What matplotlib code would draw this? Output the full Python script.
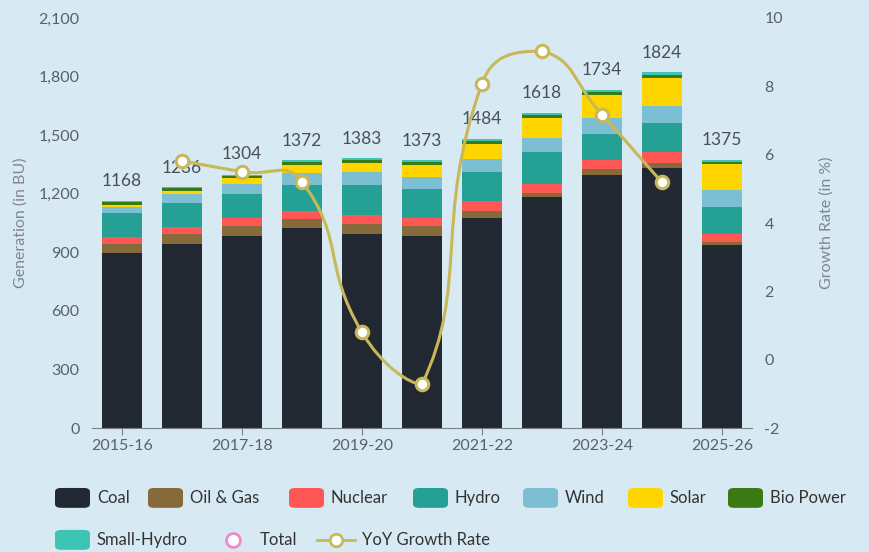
import numpy as np
import matplotlib
matplotlib.use("Agg")
import matplotlib.pyplot as plt
from matplotlib.path import Path
from matplotlib.patches import PathPatch, FancyBboxPatch
from matplotlib.lines import Line2D
from matplotlib.ticker import FuncFormatter

plt.rcParams["font.family"] = ["Lato", "DejaVu Sans"]
plt.rcParams["axes.unicode_minus"] = False

# --- Datos ---
anios = ["2015-16", "2016-17", "2017-18", "2018-19", "2019-20", "2020-21",
         "2021-22", "2022-23", "2023-24", "2024-25", "2025-26"]
coal = [896, 944, 986, 1022, 995, 982, 1078, 1182, 1294, 1330, 935]
oil_gas = [47, 49, 50, 50, 48, 51, 36, 24, 31, 29, 18]
nuclear = [37, 38, 38, 38, 46, 43, 47, 46, 48, 56, 42]
hydro = [121, 122, 126, 135, 156, 150, 151, 162, 134, 149, 138]
wind = [33, 46, 52, 62, 64, 60, 68, 72, 83, 83, 86]
solar = [7, 14, 26, 39, 50, 60, 73, 102, 116, 146, 132]
bio = [16, 14, 15, 16, 14, 16, 16, 16, 16, 16, 10]
small_hydro = [8, 8, 5, 9, 9, 10, 10, 11, 10, 12, 10]
totales = [1168, 1236, 1304, 1372, 1383, 1373, 1484, 1618, 1734, 1824, 1375]
crecimiento = [None, 5.82, 5.50, 5.21, 0.80, -0.72, 8.08, 9.03, 7.17, 5.19, None]

series = [
    ("Coal", coal, "#222831"),
    ("Oil & Gas", oil_gas, "#866a3a"),
    ("Nuclear", nuclear, "#ff5656"),
    ("Hydro", hydro, "#24a095"),
    ("Wind", wind, "#7cbfd3"),
    ("Solar", solar, "#ffd500"),
    ("Bio Power", bio, "#3b7a12"),
    ("Small-Hydro", small_hydro, "#3cc4b4"),
]

fondo = "#d7eaf4"
color_linea = "#c8b858"
gris = "#5a6066"

fig = plt.figure(figsize=(8.7, 5.52), dpi=100, facecolor=fondo)
ax = fig.add_axes([0.1057, 0.2246, 0.7586, 0.7428], facecolor=fondo)

x = np.arange(len(anios))
base = np.zeros(len(anios))
for nombre, vals, col in series:
    ax.bar(x, vals, bottom=base, width=0.67, color=col, edgecolor="none", zorder=2)
    base += np.array(vals)

for xi, t in zip(x, totales):
    ax.annotate(str(t), (xi, t), xytext=(0, 8), textcoords="offset points",
                ha="center", va="bottom", fontsize=12.5, color="#4a4f55")

ax.set_xlim(-0.5, len(anios) - 0.5)
ax.set_ylim(0, 2100)
ax.set_yticks(np.arange(0, 2101, 300))
ax.yaxis.set_major_formatter(FuncFormatter(lambda v, p: f"{int(v):,}"))
ax.set_xticks(x[::2])
ax.set_xticklabels(anios[::2])
for s in ["top", "left", "right"]:
    ax.spines[s].set_visible(False)
ax.spines["bottom"].set_color("#7a7f85")
ax.tick_params(axis="x", colors="#7a7f85", labelcolor=gris, labelsize=11.5, length=5, pad=3)
ax.tick_params(axis="y", length=0, labelcolor=gris, labelsize=11.5, pad=9)
ax.set_ylabel("Generation (in BU)", color="#80868c", fontsize=11.5, labelpad=8)

# Eje derecho: tasa de crecimiento
ax2 = ax.twinx()
ax2.set_ylim(-2, 10)
ax2.set_yticks(np.arange(-2, 11, 2))
for s in ax2.spines.values():
    s.set_visible(False)
ax2.tick_params(axis="y", length=0, labelcolor=gris, labelsize=11.5, pad=9)
ax2.set_ylabel("Growth Rate (in %)", color="#80868c", fontsize=11.5, labelpad=26)

# Linea suavizada: control de Bezier al estilo echarts, limitado a la caja de los puntos
px = np.array([xi for xi, g in zip(x, crecimiento) if g is not None], dtype=float)
py = np.array([g for g in crecimiento if g is not None], dtype=float)
escala = np.array([60.0, 34.2])  # px por unidad en cada eje
pts = np.column_stack([px, py]) * escala
lo, hi = pts.min(axis=0), pts.max(axis=0)
suave = 0.5
cps = []
n = len(pts)
for i in range(n):
    prev = pts[i - 1] if i > 0 else pts[i]
    nxt = pts[i + 1] if i < n - 1 else pts[i]
    v = (nxt - prev) * suave
    d0 = np.linalg.norm(pts[i] - prev)
    d1 = np.linalg.norm(nxt - pts[i])
    r = d0 / (d0 + d1) if (d0 + d1) > 0 else 0.5
    c_in = np.clip(pts[i] - v * r, lo, hi)
    c_out = np.clip(pts[i] + v * (1 - r), lo, hi)
    cps.append((c_in, c_out))
verts = [pts[0]]
codes = [Path.MOVETO]
for i in range(n - 1):
    verts += [cps[i][1], cps[i + 1][0], pts[i + 1]]
    codes += [Path.CURVE4] * 3
verts = np.array(verts) / escala
ax2.add_patch(PathPatch(Path(verts, codes), facecolor="none", edgecolor=color_linea,
                        lw=2.2, zorder=4))
ax2.plot(px, py, ls="none", marker="o", ms=9, mfc="white", mec=color_linea,
         mew=2.2, zorder=5)

# Leyenda
def caja(xp, yf, col):
    fig.patches.append(FancyBboxPatch((xp / 870, yf - 0.018), 35 / 870, 0.036,
                       boxstyle="round,pad=0,rounding_size=0.007",
                       transform=fig.transFigure, facecolor=col, edgecolor="none"))

texto_x1 = [97, 190, 331, 455, 565, 670, 770]
y1 = 0.098
for (nombre, _, col), xp in zip(series[:7], texto_x1):
    caja(xp - 42, y1, col)
    fig.text(xp / 870, y1, nombre, va="center", ha="left", fontsize=12, color="#333")

y2 = 0.022
caja(55, y2, series[7][2])
fig.text(97 / 870, y2, series[7][0], va="center", ha="left", fontsize=12, color="#333")
fig.add_artist(Line2D([233 / 870], [y2], marker="o", ms=10, mfc="white", mec="#f08acb",
                      mew=2, transform=fig.transFigure))
fig.text(260 / 870, y2, "Total", va="center", ha="left", fontsize=12, color="#333")
fig.add_artist(Line2D([317 / 870, 355 / 870], [y2, y2], color=color_linea, lw=2,
                      transform=fig.transFigure))
fig.add_artist(Line2D([336 / 870], [y2], marker="o", ms=9, mfc="white", mec=color_linea,
                      mew=2, transform=fig.transFigure))
fig.text(362 / 870, y2, "YoY Growth Rate", va="center", ha="left", fontsize=12, color="#333")

fig.savefig("out.png", dpi=100, facecolor=fondo)
